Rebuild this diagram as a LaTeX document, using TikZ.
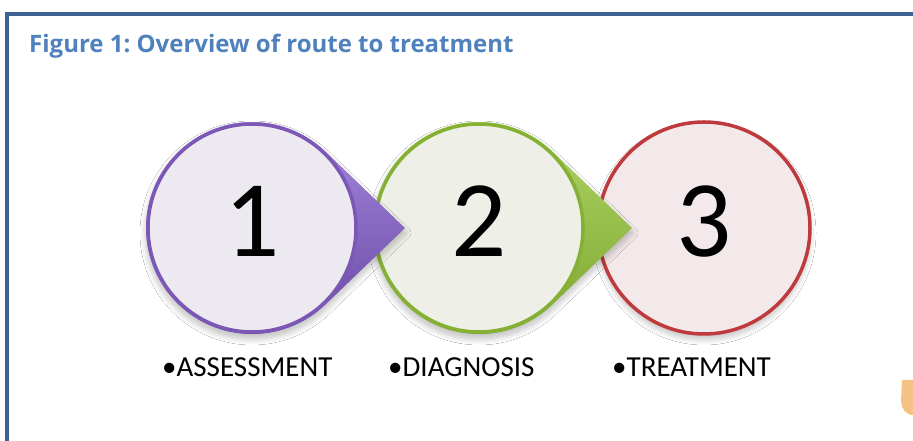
\documentclass[tikz,border=0pt]{standalone}
\usepackage{fontspec}
\setmainfont{Carlito}
\newfontfamily\titlefont{Open Sans}
\usetikzlibrary{shadows.blur}
\frenchspacing
\definecolor{framecol}{HTML}{3E6293}
\definecolor{titlecol}{HTML}{4F81BD}
\definecolor{purplering}{HTML}{7B58B6}
\definecolor{purplelight}{HTML}{A98DE0}
\definecolor{purpledark}{HTML}{6443A3}
\definecolor{purplefill}{HTML}{ECEAF0}
\definecolor{greenring}{HTML}{86B034}
\definecolor{greenlight}{HTML}{B2D86A}
\definecolor{greendark}{HTML}{7AA42C}
\definecolor{greenfill}{HTML}{EEF0E8}
\definecolor{redring}{HTML}{BF3A3D}
\definecolor{redfill}{HTML}{F3E9EB}
\definecolor{orangecol}{HTML}{F6C284}
\tikzset{
  frameline/.style={draw=framecol, line width=4.5pt},
  ringline/.style={line width=3.5pt},
  digit/.style={font=\fontsize{109}{109}\selectfont, text=black, inner sep=0pt, anchor=base},
  steplabel/.style={font=\fontsize{29}{29}\selectfont, text=black, inner sep=0pt, anchor=base west},
  softshadow/.style={blur shadow={shadow xshift=0pt, shadow yshift=-5pt, shadow blur steps=10, shadow opacity=25, shadow blur radius=6pt}}
}
\begin{document}
\begin{tikzpicture}[x=1pt,y=1pt]
\useasboundingbox (0,0) rectangle (913,441);
\fill[white] (0,0) rectangle (913,441);
% frame
\coordinate (fbl) at (7,0);
\coordinate (ftl) at (7,427);
\coordinate (ftr) at (913,427);
\draw[frameline] (fbl) -- (ftl) -- (ftr);
\node[anchor=base west, inner sep=0pt, text=titlecol, font=\titlefont\bfseries\fontsize{24}{24}\selectfont] (title) at (29,388) {\frenchspacing Figure 1: Overview of route to treatment};
% circle 3
\coordinate (c3) at (704,213);
\fill[redfill, softshadow] (c3) circle[radius=106pt];
\draw[redring, ringline] (c3) circle[radius=106pt];
\node[digit] (d3) at (704,184) {3};
% circle 2 teardrop
\coordinate (c2) at (479,213);
\coordinate (t2) at (632,213);
\shade[top color=greenlight, bottom color=greendark, softshadow] (t2) -- ($(c2)+(46.1:106pt)$) arc[start angle=46.1, end angle=313.9, radius=106pt] -- cycle;
\fill[greenfill] (c2) circle[radius=104pt];
\draw[greenring, ringline] (c2) circle[radius=104pt];
\node[digit] (d2) at (479,184) {2};
% circle 1 teardrop
\coordinate (c1) at (252,213);
\coordinate (t1) at (405,213);
\shade[top color=purplelight, bottom color=purpledark, softshadow] (t1) -- ($(c1)+(46.1:106pt)$) arc[start angle=46.1, end angle=313.9, radius=106pt] -- cycle;
\fill[purplefill] (c1) circle[radius=104pt];
\draw[purplering, ringline] (c1) circle[radius=104pt];
\node[digit] (d1) at (252,184) {1};
% labels
\node[steplabel] (l1) at (162,64) {•ASSESSMENT};
\node[steplabel] (l2) at (388,64) {•DIAGNOSIS};
\node[steplabel] (l3) at (612,64) {•TREATMENT};
% orange partial shape
\fill[orangecol] (913,61) -- (902,61) -- (901,40) to[out=-90,in=180] (913,26) -- cycle;
\end{tikzpicture}
\end{document}
